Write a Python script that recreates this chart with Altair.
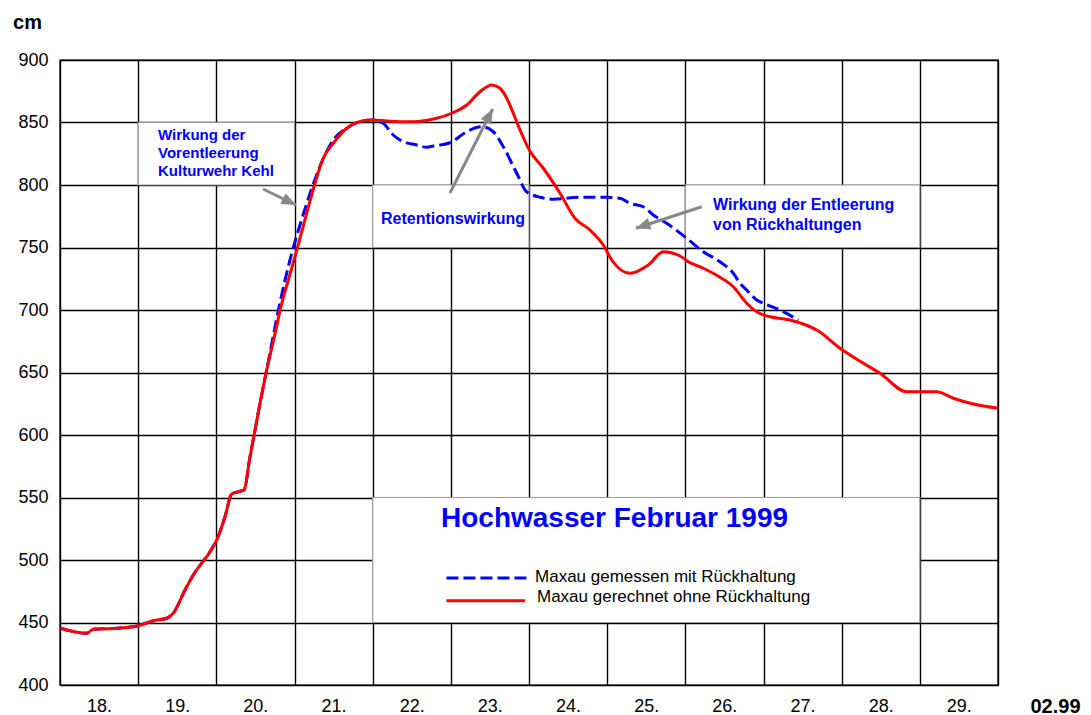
import altair as alt
import pandas as pd

FONT = "Liberation Sans"

# Maxau gerechnet ohne Rückhaltung (red)
red_day = [18.009, 18.342, 18.426, 18.725, 19.002, 19.194, 19.365, 19.449, 19.599, 19.705,
           19.919, 20.005, 20.111, 20.197, 20.281, 20.354, 20.431, 20.495, 20.559, 20.644,
           20.738, 20.836, 20.921, 21.006, 21.156, 21.262, 21.368, 21.496, 21.668, 21.880,
           21.988, 22.180, 22.350, 22.520, 22.819, 23.011, 23.203, 23.373, 23.523, 23.629,
           23.715, 23.799, 23.885, 24.013, 24.183, 24.397, 24.588, 24.780, 24.950, 25.058,
           25.292, 25.526, 25.718, 25.932, 26.038, 26.230, 26.443, 26.613, 26.785, 26.933,
           27.083, 27.339, 27.701, 27.978, 28.277, 28.490, 28.832, 29.215, 29.428, 29.684,
           30.000]
red_val = [445.4, 441.4, 444.6, 445.4, 447.4, 451.4, 453.4, 457.4, 476.0, 488.0,
           506.6, 516.0, 534.6, 552.8, 554.6, 556.0, 582.6, 604.0, 625.4, 652.0,
           677.4, 705.0, 724.0, 742.6, 777.4, 801.4, 821.4, 833.4, 845.4, 851.4,
           852.0, 851.2, 850.6, 850.6, 853.4, 857.4, 864.0, 874.6, 880.0, 877.4,
           869.4, 857.4, 844.0, 827.0, 813.4, 793.4, 773.4, 764.0, 752.0, 740.0,
           729.4, 736.0, 746.6, 743.2, 738.6, 733.4, 726.2, 718.6, 705.4, 697.8,
           694.6, 692.0, 683.2, 669.4, 657.4, 649.4, 634.6, 634.6, 629.4, 624.8,
           621.4]

# Maxau gemessen mit Rückhaltung (blue dashed)
blue_day = [18.009, 18.342, 18.426, 18.725, 19.002, 19.194, 19.365, 19.449, 19.599, 19.705,
            19.919, 20.005, 20.111, 20.197, 20.281, 20.354, 20.431, 20.495, 20.559, 20.644,
            20.815, 20.942, 21.070, 21.198, 21.326, 21.496, 21.668, 21.880, 21.988, 22.134,
            22.262, 22.350, 22.564, 22.691, 22.776, 22.989, 23.203, 23.395, 23.543, 23.693,
            23.843, 23.970, 24.141, 24.311, 24.652, 24.994, 25.164, 25.292, 25.462, 25.590,
            25.761, 26.017, 26.230, 26.443, 26.613, 26.699, 26.785, 26.913, 26.997, 27.211,
            27.445]
blue_val = [445.4, 441.4, 444.6, 445.4, 447.4, 451.4, 453.4, 457.4, 476.0, 488.0,
            506.6, 516.0, 534.6, 552.8, 554.6, 556.0, 582.6, 604.0, 625.4, 652.0,
            706.0, 740.0, 768.0, 793.0, 815.0, 836.0, 845.4, 851.4, 852.0, 849.4,
            840.0, 836.0, 832.0, 830.2, 831.2, 833.8, 842.6, 846.6, 842.6, 828.0,
            809.4, 794.6, 790.2, 788.6, 790.2, 790.2, 789.4, 785.4, 782.6, 776.0,
            769.4, 757.4, 746.6, 738.6, 729.4, 721.4, 716.0, 708.0, 705.4, 700.0,
            692.0]

# x-axis day labels and y ticks
day_ticks = list(range(18, 31))
y_ticks = list(range(400, 901, 50))

# annotation boxes (data units)
box_x = [19, 22, 26, 22]
box_x2 = [21, 24, 29, 29]
box_y = [800, 750, 750, 450]
box_y2 = [850, 800, 800, 550]

# annotation texts
ann_text = ["Wirkung der", "Vorentleerung", "Kulturwehr Kehl", "Retentionswirkung",
            "Wirkung der Entleerung", "von Rückhaltungen"]
ann_x = [19.254, 19.254, 19.254, 22.107, 26.354, 26.354]
ann_y = [840.0, 825.6, 811.2, 772.8, 784.0, 768.0]
ann_size = [15, 15, 15, 16, 16, 16]

# arrows: tail -> tip
arr_x = [20.597, 22.989, 26.209]
arr_y = [796.8, 793.6, 782.6]
arr_x2 = [21.019, 23.535, 25.369]
arr_y2 = [784.0, 860.8, 765.4]
arr_angle = [116, 27, 252]

# title & legend
title_text = ["Hochwasser Februar 1999"]
title_x = [22.874]
title_y = [532.6]
leg_text = ["Maxau gemessen mit Rückhaltung", "Maxau gerechnet ohne Rückhaltung"]
leg_text_x = [24.077, 24.102]
leg_text_y = [486.6, 470.6]
leg_line_x = [22.944, 22.944]
leg_line_x2 = [23.975, 23.950]
leg_line_y = [485.6, 467.4]

W, H = 938, 625

xscale = alt.Scale(domain=[18, 30], nice=False, zero=False)
yscale = alt.Scale(domain=[400, 900], nice=False, zero=False)

xaxis = alt.Axis(values=day_ticks, grid=True, gridColor="black", gridWidth=1.4,
                 ticks=False, domain=False, labelOffset=39, labelFlush=False,
                 labelExpr="datum.value < 30 ? datum.value + '.' : ''",
                 labelFontSize=18, labelFont=FONT, labelColor="black", labelPadding=12,
                 title="02.99", titleFont=FONT, titleFontSize=20, titleFontWeight="bold",
                 titleColor="black", titleX=995, titleY=21, titleAlign="center",
                 titleBaseline="middle", titleAngle=0)
yaxis = alt.Axis(values=y_ticks, grid=True, gridColor="black", gridWidth=1.4,
                 ticks=False, domain=False, labelFontSize=18, labelFont=FONT,
                 labelColor="black", labelPadding=12,
                 title="cm", titleFont=FONT, titleFontSize=20, titleFontWeight="bold",
                 titleColor="black", titleX=-33, titleY=-38, titleAlign="center",
                 titleBaseline="middle", titleAngle=0)

def X(f):
    return alt.X(f, type="quantitative", scale=xscale, axis=xaxis)

def Y(f):
    return alt.Y(f, type="quantitative", scale=yscale, axis=yaxis)

boxes = pd.DataFrame({"x": box_x, "x2": box_x2, "y": box_y, "y2": box_y2})
red = pd.DataFrame({"day": red_day, "val": red_val})
blue = pd.DataFrame({"day": blue_day, "val": blue_val})
ann = pd.DataFrame({"x": ann_x, "y": ann_y, "t": ann_text, "s": ann_size})
arr = pd.DataFrame({"x": arr_x, "y": arr_y, "x2": arr_x2, "y2": arr_y2, "a": arr_angle})
ttl = pd.DataFrame({"x": title_x, "y": title_y, "t": title_text})
legt = pd.DataFrame({"x": leg_text_x, "y": leg_text_y, "t": leg_text})
legl = pd.DataFrame({"x": leg_line_x, "x2": leg_line_x2, "y": leg_line_y,
                     "c": ["blue", "red"]})

box_layer = alt.Chart(boxes).mark_rect(fill="white", stroke="#999999", strokeWidth=1.2).encode(
    x=X("x"), x2="x2", y=Y("y"), y2="y2")

blue_layer = alt.Chart(blue).mark_line(color="#0000FF", strokeWidth=3, strokeDash=[12, 5],
                                       interpolate="monotone").encode(x=X("day"), y=Y("val"))
red_layer = alt.Chart(red).mark_line(color="#FF0000", strokeWidth=3,
                                     interpolate="monotone").encode(x=X("day"), y=Y("val"))

arrow_shaft = alt.Chart(arr).mark_rule(color="#888888", strokeWidth=3).encode(
    x=X("x"), y=Y("y"), x2="x2", y2="y2")
arrow_head = alt.Chart(arr).mark_point(shape="M0,0L-0.75,1.8L0.75,1.8Z", filled=True,
                                       size=256, color="#888888", opacity=1).encode(
    x=X("x2"), y=Y("y2"), angle=alt.Angle("a:Q", scale=None))

ann_layer = alt.Chart(ann).mark_text(align="left", baseline="middle", color="#0000FF",
                                     font=FONT, fontWeight="bold").encode(
    x=X("x"), y=Y("y"), text="t:N", size=alt.Size("s:Q", scale=None))

title_layer = alt.Chart(ttl).mark_text(align="left", baseline="middle", color="#0000FF",
                                       font=FONT, fontWeight="bold", fontSize=28).encode(
    x=X("x"), y=Y("y"), text="t:N")

leg_blue = alt.Chart(legl[legl.c == "blue"]).mark_rule(color="#0000FF", strokeWidth=3,
                                                       strokeDash=[12, 5]).encode(
    x=X("x"), x2="x2", y=Y("y"))
leg_red = alt.Chart(legl[legl.c == "red"]).mark_rule(color="#FF0000", strokeWidth=3).encode(
    x=X("x"), x2="x2", y=Y("y"))
leg_text_layer = alt.Chart(legt).mark_text(align="left", baseline="middle", color="black",
                                           font=FONT, fontSize=17).encode(
    x=X("x"), y=Y("y"), text="t:N")

chart = alt.layer(
    box_layer, blue_layer, red_layer, arrow_shaft, arrow_head, ann_layer,
    title_layer, leg_blue, leg_red, leg_text_layer
).properties(
    width=W, height=H,
    autosize=alt.AutoSizeParams(type="none"),
    padding={"left": 52, "top": 52, "right": 85, "bottom": 32},
    background="white",
).configure_view(stroke="black", strokeWidth=1.4)

chart.save("out.html", embed_options={"renderer": "svg", "actions": False})
